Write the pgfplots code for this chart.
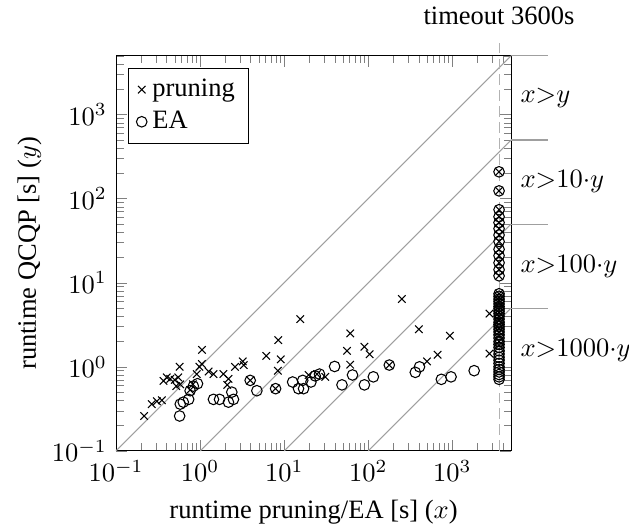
\documentclass[border=0pt]{standalone}
\usepackage{fontspec}
\setmainfont{Liberation Serif}
\usepackage{pgfplots}
\pgfplotsset{compat=1.18}

\begin{document}
\begin{tikzpicture}
\begin{axis}[
  width=149pt, height=149pt, scale only axis,
  xmode=log, ymode=log,
  xmin=0.1, xmax=5000, ymin=0.1, ymax=5000,
  xlabel={runtime pruning/EA [s] ($x$)},
  ylabel={runtime QCQP [s] ($y$)},
  ylabel shift=-3pt,
  clip=false,
  legend style={at={(0.03,0.97)}, anchor=north west},
  legend cell align=left,
]
% reference diagonals x = 10^k y
\addplot[gray!75, no marks, forget plot] coordinates {(0.1,0.1) (5000,5000)};
\addplot[gray!75, no marks, forget plot] coordinates {(1,0.1) (5000,500)};
\addplot[gray!75, no marks, forget plot] coordinates {(10,0.1) (5000,50)};
\addplot[gray!75, no marks, forget plot] coordinates {(100,0.1) (5000,5)};

% pruning
\addplot[only marks, mark=x, mark size=2pt] coordinates {
  (0.215,0.26) (0.266,0.36) (0.305,0.39) (0.35,0.40) (0.366,0.68)
  (0.40,0.75) (0.44,0.72) (0.50,0.70) (0.55,0.75) (0.57,1.0)
  (0.52,0.59) (0.58,0.62) (1.05,1.59) (1.05,1.08) (0.98,1.0)
  (0.91,0.82) (0.82,0.62) (0.76,0.53) (1.26,0.88) (1.44,0.82)
  (1.89,0.82) (2.17,0.72) (2.1,0.61) (2.6,1.0) (3.3,1.05)
  (3.22,1.16) (3.94,0.69) (6.1,1.35) (9.1,1.23) (8.5,2.08)
  (8.4,0.90) (7.9,0.55) (15.5,3.7) (19.5,0.80) (24.6,0.82)
  (30.8,0.76) (61,2.5) (56,1.55) (61,1.06) (90,1.73)
  (104,1.41) (178,1.05) (251,6.4) (400,2.8) (937,2.34)
  (500,1.16) (668,1.39) (2770,4.3) (2770,1.44)
  (3600,209) (3600,124) (3600,74) (3600,61) (3600,52) (3600,44)
  (3600,37) (3600,31) (3600,25) (3600,21) (3600,17.3) (3600,14.3)
  (3600,12.1) (3600,7.4) (3600,6.8) (3600,6.2) (3600,5.7) (3600,5.2)
  (3600,4.8) (3600,4.4) (3600,4.0) (3600,3.6) (3600,3.2) (3600,2.9)
  (3600,2.6) (3600,2.3) (3600,2.0) (3600,1.8)
};
% EA
\addplot[only marks, mark=o, mark size=2pt] coordinates {
  (0.57,0.26) (0.58,0.36) (0.63,0.38) (0.73,0.41) (0.76,0.52)
  (0.83,0.59) (0.93,0.63) (1.44,0.41) (1.70,0.41) (2.17,0.38)
  (2.38,0.50) (2.49,0.41) (3.94,0.69) (4.73,0.52) (7.9,0.55)
  (12.6,0.66) (14.8,0.55) (17,0.55) (16.6,0.69) (20.8,0.66)
  (23.4,0.78) (26.3,0.82) (39.8,1.01) (48.7,0.61) (65,0.80)
  (90,0.61) (115,0.76) (178,1.05) (363,0.86) (407,1.0)
  (741,0.71) (966,0.76) (1820,0.90)
  (3600,209) (3600,124) (3600,74) (3600,61) (3600,52) (3600,44)
  (3600,37) (3600,31) (3600,25) (3600,21) (3600,17.3) (3600,14.3)
  (3600,12.1) (3600,7.4) (3600,6.9) (3600,6.4) (3600,6.0) (3600,5.6)
  (3600,5.2) (3600,4.9) (3600,4.6) (3600,4.3) (3600,4.0) (3600,3.7)
  (3600,3.4) (3600,3.2) (3600,3.0) (3600,2.8) (3600,2.6) (3600,2.4)
  (3600,2.2) (3600,2.0) (3600,1.85) (3600,1.7) (3600,1.55) (3600,1.42)
  (3600,1.3) (3600,1.2) (3600,1.1) (3600,1.0) (3600,0.93) (3600,0.87)
  (3600,0.81) (3600,0.76) (3600,0.71)
};
\legend{pruning, EA}

% timeout marker
\draw[gray!60, dash pattern=on 4pt off 2pt] (axis cs:3600,0.1) -- (axis cs:3600,5000) -- ++(0pt,6.8pt);
\node[anchor=base, inner sep=0pt] at ([yshift=12pt]axis cs:3600,5000) {timeout 3600s};
% region separators and labels
\draw[gray!75] (axis cs:5000,5000) -- ++(14pt,0pt);
\draw[gray!75] (axis cs:5000,500) -- ++(14pt,0pt);
\draw[gray!75] (axis cs:5000,50) -- ++(14pt,0pt);
\draw[gray!75] (axis cs:5000,5) -- ++(14pt,0pt);
\node[anchor=west, inner sep=0pt] at ([xshift=3.4pt]axis cs:5000,1581) {$x{>}y$};
\node[anchor=west, inner sep=0pt] at ([xshift=3.4pt]axis cs:5000,158) {$x{>}10{\cdot}y$};
\node[anchor=west, inner sep=0pt] at ([xshift=3.4pt]axis cs:5000,15.8) {$x{>}100{\cdot}y$};
\node[anchor=west, inner sep=0pt] at ([xshift=3.4pt]axis cs:5000,1.58) {$x{>}1000{\cdot}y$};
\end{axis}
\pgfresetboundingbox
\path ([shift={(-43.8pt,-27.9pt)}]current axis.south west)
  rectangle ([shift={(44.5pt,21.1pt)}]current axis.north east);
\end{tikzpicture}
\end{document}
